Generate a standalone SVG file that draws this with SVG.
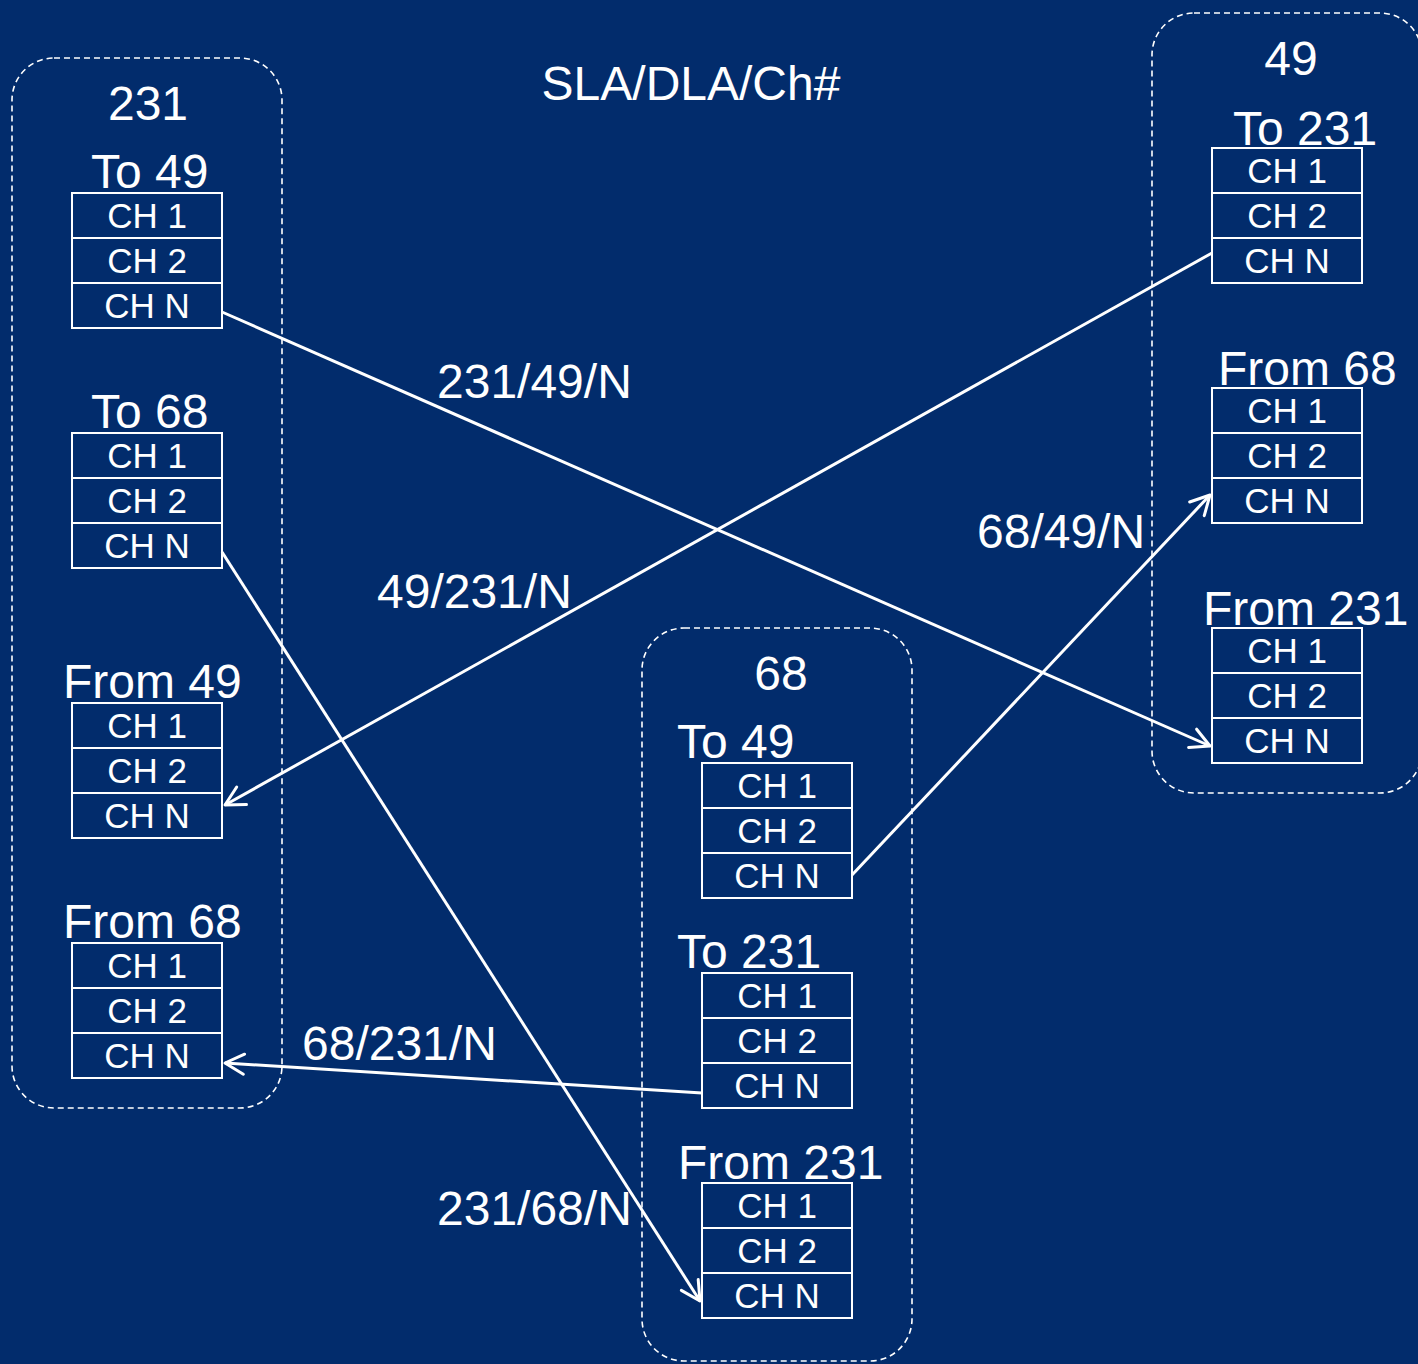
<svg xmlns="http://www.w3.org/2000/svg" width="1418" height="1364" viewBox="0 0 1418 1364">
<defs>
<style>
.bg{fill:#022c6c}
.grp{fill:none;stroke:#fff;stroke-width:1.6;stroke-dasharray:6 4}
.cell{fill:none;stroke:#fff;stroke-width:2}
.t{font-family:"Liberation Sans",Arial,sans-serif;fill:#fff}
.big{font-size:48px}
.ch{font-size:35px;text-anchor:middle}
.conn{fill:none;stroke:#fff;stroke-width:3}
</style>
<marker id="arr" viewBox="-22 -13 25 26" markerWidth="25" markerHeight="26" refX="0" refY="0" orient="auto" markerUnits="userSpaceOnUse">
<path d="M-19,-10 L0,0 L-19,10" fill="none" stroke="#fff" stroke-width="3" stroke-linecap="round" stroke-linejoin="round"/>
</marker>
<g id="stack">
<rect class="cell" x="0" y="0" width="150" height="45"/>
<rect class="cell" x="0" y="45" width="150" height="45"/>
<rect class="cell" x="0" y="90" width="150" height="45"/>
<text class="t ch" x="75" y="35">CH 1</text>
<text class="t ch" x="75" y="80">CH 2</text>
<text class="t ch" x="75" y="125">CH N</text>
</g>
</defs>
<rect class="bg" x="0" y="0" width="1418" height="1364"/>
<text class="t big" x="691" y="100" text-anchor="middle">SLA/DLA/Ch#</text>

<g id="node-231">
<rect class="grp" x="12" y="58" width="270" height="1050" rx="42"/>
<text class="t big" x="148" y="120" text-anchor="middle">231</text>
<g id="n231-to49"><text class="t big" x="91" y="188">To 49</text><use href="#stack" x="72" y="193"/></g>
<g id="n231-to68"><text class="t big" x="91" y="428">To 68</text><use href="#stack" x="72" y="433"/></g>
<g id="n231-from49"><text class="t big" x="63" y="698">From 49</text><use href="#stack" x="72" y="703"/></g>
<g id="n231-from68"><text class="t big" x="63" y="938">From 68</text><use href="#stack" x="72" y="943"/></g>
</g>

<g id="node-49">
<rect class="grp" x="1152" y="13" width="270" height="780" rx="42"/>
<text class="t big" x="1291" y="75" text-anchor="middle">49</text>
<g id="n49-to231"><text class="t big" x="1233" y="145">To 231</text><use href="#stack" x="1212" y="148"/></g>
<g id="n49-from68"><text class="t big" x="1218" y="385">From 68</text><use href="#stack" x="1212" y="388"/></g>
<g id="n49-from231"><text class="t big" x="1203" y="625">From 231</text><use href="#stack" x="1212" y="628"/></g>
</g>

<g id="node-68">
<rect class="grp" x="642" y="628" width="270" height="733" rx="42"/>
<text class="t big" x="781" y="690" text-anchor="middle">68</text>
<g id="n68-to49"><text class="t big" x="677" y="758">To 49</text><use href="#stack" x="702" y="763"/></g>
<g id="n68-to231"><text class="t big" x="677" y="968">To 231</text><use href="#stack" x="702" y="973"/></g>
<g id="n68-from231"><text class="t big" x="678" y="1179">From 231</text><use href="#stack" x="702" y="1183"/></g>
</g>

<g id="connectors">
<line class="conn" x1="222" y1="312" x2="1210" y2="746" marker-end="url(#arr)"/>
<line class="conn" x1="1212" y1="253" x2="225" y2="805" marker-end="url(#arr)"/>
<line class="conn" x1="222" y1="552" x2="700" y2="1301" marker-end="url(#arr)"/>
<line class="conn" x1="702" y1="1093" x2="225" y2="1063" marker-end="url(#arr)"/>
<line class="conn" x1="852" y1="875" x2="1210" y2="495" marker-end="url(#arr)"/>
<text class="t big" x="437" y="398">231/49/N</text>
<text class="t big" x="377" y="608">49/231/N</text>
<text class="t big" x="977" y="548">68/49/N</text>
<text class="t big" x="302" y="1060">68/231/N</text>
<text class="t big" x="437" y="1225">231/68/N</text>
</g>
</svg>
